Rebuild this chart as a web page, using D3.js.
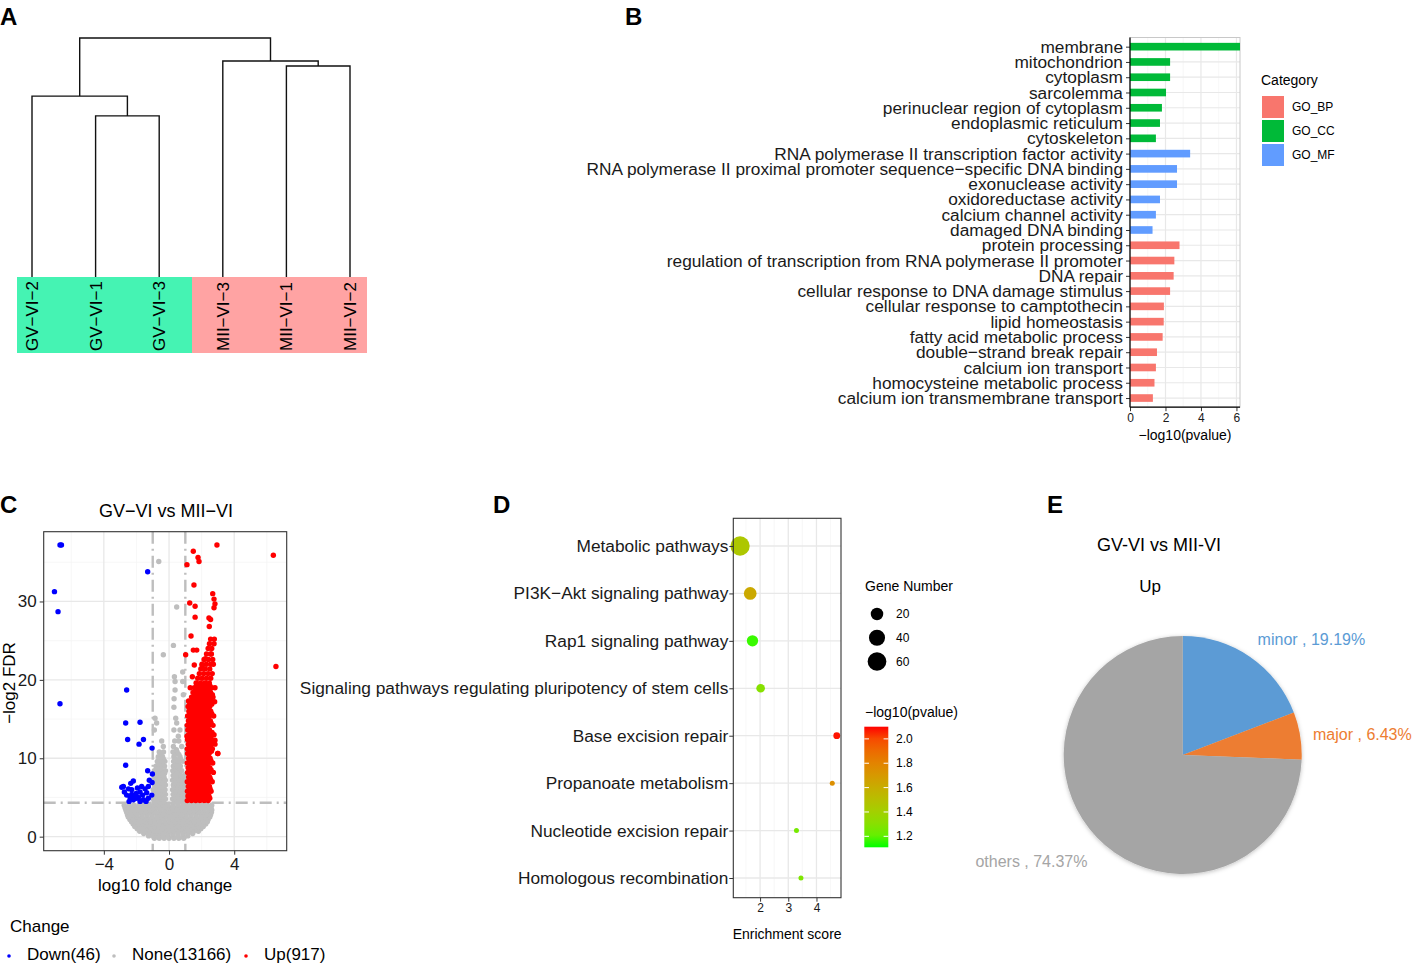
<!DOCTYPE html>
<html>
<head>
<meta charset="utf-8">
<script src="https://cdn.jsdelivr.net/npm/d3@7"></script>
<style>
  body { margin: 0; background: #fff; }
  svg { font-family: "Liberation Sans", Arial, Helvetica, sans-serif; }
</style>
</head>
<body>
<svg id="fig" width="1417" height="964"></svg>
<script>
// ---------- A: sample clustering ----------
var sampleNames = ['GV−VI−2', 'GV−VI−1', 'GV−VI−3', 'MII−VI−3', 'MII−VI−1', 'MII−VI−2'];
var sampleGroups = ['GV−VI', 'MII−VI'];
var groupColors = ['#45F3B3', '#FFA3A3'];
// hclust style merge table (negative = leaf, positive = earlier cluster)
var hcMerge = [[-2, -3], [-1, 1], [-5, -6], [-4, 3], [2, 4]];
var hcHeight = [67.4, 75.7, 88.3, 90.4, 100];

// ---------- B: GO enrichment ----------
var goTerms = ['membrane', 'mitochondrion', 'cytoplasm', 'sarcolemma', 'perinuclear region of cytoplasm',
  'endoplasmic reticulum', 'cytoskeleton', 'RNA polymerase II transcription factor activity',
  'RNA polymerase II proximal promoter sequence−specific DNA binding', 'exonuclease activity',
  'oxidoreductase activity', 'calcium channel activity', 'damaged DNA binding', 'protein processing',
  'regulation of transcription from RNA polymerase II promoter', 'DNA repair',
  'cellular response to DNA damage stimulus', 'cellular response to camptothecin', 'lipid homeostasis',
  'fatty acid metabolic process', 'double−strand break repair', 'calcium ion transport',
  'homocysteine metabolic process', 'calcium ion transmembrane transport'];
var goCategory = ['GO_CC', 'GO_CC', 'GO_CC', 'GO_CC', 'GO_CC', 'GO_CC', 'GO_CC',
  'GO_MF', 'GO_MF', 'GO_MF', 'GO_MF', 'GO_MF', 'GO_MF',
  'GO_BP', 'GO_BP', 'GO_BP', 'GO_BP', 'GO_BP', 'GO_BP', 'GO_BP', 'GO_BP', 'GO_BP', 'GO_BP', 'GO_BP'];
var goLogP = [6.2, 2.26, 2.26, 2.03, 1.8, 1.69, 1.46, 3.39, 2.65, 2.65, 1.69, 1.46, 1.27,
  2.79, 2.5, 2.46, 2.26, 1.91, 1.9, 1.84, 1.52, 1.46, 1.38, 1.29];
var goCats = ['GO_BP', 'GO_CC', 'GO_MF'];
var goColors = ['#F8766D', '#00BA38', '#619CFF'];

// ---------- C: volcano ----------
var changeNames = ['Down(46)', 'None(13166)', 'Up(917)'];
var changeColors = ['#0000FF', '#BEBEBE', '#FF0000'];
var downPts = [[-6.69, 37.2], [-6.6, 37.2], [-7.03, 31.25], [-6.81, 28.7], [-6.69, 16.96], [-1.31, 33.8],
  [-2.6, 18.7], [-2.66, 14.5], [-1.78, 14.6], [-2.54, 12.4], [-1.57, 12.4], [-1.84, 11.8], [-1.04, 11.3],
  [-2.66, 9.1], [-1.31, 8.4], [-1.02, 8.0], [-1.04, 6.9], [-2.8, 6.4], [-2.35, 6.8], [-2.19, 7.1],
  [-2.49, 6.1], [-2.6, 5.3], [-2.29, 5.4], [-2.02, 5.5], [-1.78, 5.7], [-1.47, 6.1], [-1.37, 5.6],
  [-1.62, 5.3], [-1.88, 5.0], [-2.19, 4.7], [-2.45, 4.5], [-1.27, 4.9], [-1.57, 4.7], [-1.27, 6.4],
  [-1.98, 4.9], [-2.74, 5.7], [-2.39, 5.0], [-1.21, 7.2], [-1.41, 4.5], [-1.78, 4.5], [-2.15, 5.2],
  [-2.9, 6.3], [-1.06, 5.3], [-1.68, 6.4], [-2.29, 6.0], [-1.94, 6.2]];
// gray cloud, read row by row: [y, [x...]]
var noneRows = [
  [-0.2, [-0.9, -0.6, -0.3, 0, 0.3, 0.6, 0.9]],
  [0.1, [-1.25, -0.95, -0.65, -0.35, -0.05, 0.25, 0.55, 0.85, 1.15]],
  [0.4, [-1.55, -1.25, -0.95, -0.65, -0.35, -0.05, 0.25, 0.55, 0.85, 1.15, 1.45]],
  [0.7, [-1.8, -1.5, -1.2, -0.9, -0.6, -0.3, 0, 0.3, 0.6, 0.9, 1.2, 1.5, 1.8]],
  [1.0, [-1.95, -1.65, -1.35, -1.05, -0.75, -0.45, -0.15, 0.15, 0.45, 0.75, 1.05, 1.35, 1.65, 1.95]],
  [1.3, [-2.1, -1.8, -1.5, -1.2, -0.9, -0.6, -0.3, 0, 0.3, 0.6, 0.9, 1.2, 1.5, 1.8, 2.1]],
  [1.6, [-2.2, -1.9, -1.6, -1.3, -1.0, -0.7, -0.4, -0.1, 0.2, 0.5, 0.8, 1.1, 1.4, 1.7, 2.0, 2.25]],
  [1.9, [-2.3, -2.05, -1.75, -1.45, -1.15, -0.85, -0.55, -0.25, 0.05, 0.35, 0.65, 0.95, 1.25, 1.55, 1.85, 2.15, 2.35]],
  [2.2, [-2.4, -2.1, -1.8, -1.5, -1.2, -0.9, -0.6, -0.3, 0, 0.3, 0.6, 0.9, 1.2, 1.5, 1.8, 2.1, 2.4]],
  [2.5, [-2.5, -2.25, -1.95, -1.65, -1.35, -1.05, -0.75, -0.45, -0.15, 0.15, 0.45, 0.75, 1.05, 1.35, 1.65, 1.95, 2.25, 2.5]],
  [2.8, [-2.55, -2.25, -1.95, -1.65, -1.35, -1.05, -0.75, -0.45, -0.15, 0.15, 0.45, 0.75, 1.05, 1.35, 1.65, 1.95, 2.25, 2.55]],
  [3.1, [-2.6, -2.4, -2.1, -1.8, -1.5, -1.2, -0.9, -0.6, -0.3, 0, 0.3, 0.6, 0.9, 1.2, 1.5, 1.8, 2.1, 2.4, 2.6]],
  [3.4, [-2.65, -2.35, -2.05, -1.75, -1.45, -1.15, -0.85, -0.55, -0.25, 0.05, 0.35, 0.65, 0.95, 1.25, 1.55, 1.85, 2.15, 2.45, 2.62]],
  [3.7, [-2.7, -2.5, -2.2, -1.9, -1.6, -1.3, -1.0, -0.7, -0.4, -0.1, 0.2, 0.5, 0.8, 1.1, 1.4, 1.7, 2.0, 2.3, 2.58]],
  [4.0, [-2.75, -2.45, -2.15, -1.85, -1.55, -1.25, -0.95, -0.65, -0.35, -0.05, 0.25, 0.55, 0.85, 1.15, 1.45, 1.75, 2.05, 2.35, 2.62]],
  [4.4, [-0.85, -0.58, -0.33, 0.33, 0.58, 0.85]],
  [4.8, [-0.96, -0.7, -0.45, -0.22, 0.22, 0.46, 0.7, 0.95]],
  [5.1, [-0.83, -0.57, -0.33, 0.35, 0.6, 0.85]],
  [5.4, [-0.9, -0.64, -0.4, -0.22, 0.25, 0.5, 0.75, 0.98]],
  [5.7, [-0.78, -0.52, -0.3, 0.37, 0.62, 0.87]],
  [6.0, [-0.97, -0.72, -0.47, -0.24, 0.22, 0.44, 0.68, 0.92]],
  [6.3, [-0.85, -0.58, -0.34, 0.33, 0.58, 0.83]],
  [6.6, [-0.88, -0.62, -0.38, -0.22, 0.26, 0.5, 0.74, 0.96]],
  [6.9, [-0.76, -0.5, -0.3, 0.38, 0.62, 0.86]],
  [7.2, [-0.93, -0.67, -0.42, -0.23, 0.22, 0.47, 0.75]],
  [7.5, [-0.8, -0.55, -0.3, 0.35, 0.6, 0.85]],
  [7.8, [-0.85, -0.58, -0.33, 0.25, 0.5, 0.72, 0.95]],
  [8.1, [-0.72, -0.47, -0.27, 0.37, 0.63]],
  [8.4, [-0.9, -0.63, -0.38, -0.22, 0.23, 0.5, 0.78]],
  [8.7, [-0.77, -0.5, 0.36, 0.64]],
  [9.0, [-0.8, -0.52, -0.27, 0.26, 0.48, 0.7]],
  [9.3, [-0.66, -0.4, 0.38, 0.6]],
  [9.6, [-0.72, -0.46, -0.25, 0.28, 0.55, 0.85]],
  [9.9, [-0.58, -0.35, 0.4, 0.7]],
  [10.2, [-0.66, -0.4, 0.3, 0.67]],
  [10.5, [-0.5, 0.37, 0.6]],
  [10.8, [-0.6, -0.34, 0.24, 0.5]],
  [11.1, [0.45]],
  [11.5, [-0.35, 0.27, 0.78]],
  [12.2, [-0.45, 0.35, 0.6]],
  [12.8, [0.57]],
  [13.6, [-0.9, 0.3, 0.67]],
  [14.5, [-0.76, 0.47]],
  [15.1, [-0.86, 0.41]],
  [16.5, [0.3]],
  [17.6, [0.31]],
  [18.1, [0.88]],
  [18.7, [0.37]],
  [19.8, [0.37, 0.84]],
  [20.4, [0.33]],
  [21.0, [0.84]]];
var nonePts = [[-0.63, 35.1], [0.47, 29.3], [0.27, 24.4], [-0.35, 23.2]];
var upRows = [
  [4.6, [1.12, 1.38, 1.64, 1.9, 2.16, 2.4]],
  [4.9, [1.25, 1.51, 1.77, 2.03, 2.29, 2.5]],
  [5.2, [1.16, 1.42, 1.69, 1.95, 2.22, 2.45]],
  [5.5, [1.29, 1.55, 1.82, 2.08, 2.33]],
  [5.8, [1.13, 1.4, 1.66, 1.92, 2.18, 2.43, 2.58]],
  [6.1, [1.26, 1.53, 1.79, 2.05, 2.31, 2.52]],
  [6.4, [1.18, 1.44, 1.7, 1.97, 2.24, 2.48]],
  [6.7, [1.31, 1.57, 1.83, 2.1, 2.36]],
  [7.0, [1.12, 1.38, 1.65, 1.91, 2.17, 2.42, 2.65]],
  [7.3, [1.25, 1.51, 1.78, 2.04, 2.3, 2.55]],
  [7.6, [1.2, 1.46, 1.72, 1.98, 2.25, 2.5]],
  [7.9, [1.33, 1.59, 1.85, 2.12, 2.38]],
  [8.2, [1.14, 1.4, 1.66, 1.93, 2.2, 2.45, 2.72]],
  [8.5, [1.27, 1.53, 1.8, 2.06, 2.33, 2.58]],
  [8.8, [1.17, 1.43, 1.7, 1.96, 2.23, 2.5]],
  [9.1, [1.3, 1.56, 1.83, 2.09, 2.36]],
  [9.4, [1.12, 1.39, 1.65, 1.92, 2.18, 2.44, 2.68]],
  [9.7, [1.25, 1.52, 1.78, 2.05, 2.31, 2.57]],
  [10.0, [1.2, 1.46, 1.73, 2.0, 2.26, 2.52]],
  [10.3, [1.33, 1.6, 1.86, 2.13, 2.39]],
  [10.6, [1.14, 1.4, 1.67, 1.94, 2.2, 2.46, 2.98]],
  [10.9, [1.27, 1.54, 1.8, 2.07, 2.33, 2.6]],
  [11.2, [1.12, 1.38, 1.64, 1.9, 2.17, 2.43, 2.66]],
  [11.5, [1.25, 1.51, 1.77, 2.04, 2.3, 2.55]],
  [11.8, [1.18, 1.45, 1.72, 1.99, 2.26, 2.52, 2.82]],
  [12.1, [1.31, 1.58, 1.85, 2.12, 2.39, 2.66]],
  [12.4, [1.13, 1.4, 1.67, 1.94, 2.2, 2.46]],
  [12.7, [1.26, 1.53, 1.8, 2.07, 2.33, 2.58]],
  [13.0, [1.2, 1.47, 1.74, 2.0, 2.27, 2.54, 2.76]],
  [13.3, [1.33, 1.6, 1.87, 2.13, 2.4, 2.64]],
  [13.6, [1.15, 1.42, 1.69, 1.96, 2.23, 2.48]],
  [13.9, [1.28, 1.55, 1.82, 2.09, 2.36]],
  [14.2, [1.12, 1.38, 1.65, 1.92, 2.19, 2.45, 2.7]],
  [14.5, [1.25, 1.52, 1.78, 2.05, 2.32, 2.58]],
  [14.8, [1.19, 1.46, 1.73, 2.0, 2.27, 2.53]],
  [15.1, [1.32, 1.59, 1.86, 2.13, 2.4]],
  [15.4, [1.14, 1.41, 1.68, 1.95, 2.22, 2.48, 2.74]],
  [15.7, [1.27, 1.55, 1.82, 2.09, 2.35, 2.62]],
  [16.0, [1.22, 1.49, 1.76, 2.03, 2.3, 2.56]],
  [16.3, [1.35, 1.62, 1.89, 2.16, 2.43]],
  [16.6, [1.17, 1.44, 1.71, 1.98, 2.25, 2.5]],
  [16.9, [1.3, 1.57, 1.84, 2.11, 2.38, 2.62]],
  [17.2, [1.24, 1.52, 1.79, 2.06, 2.33, 2.6, 2.8]],
  [17.5, [1.5, 1.78, 2.05, 2.32, 2.58]],
  [17.8, [1.38, 1.65, 1.92, 2.19, 2.46, 2.7]],
  [18.1, [1.6, 1.87, 2.14, 2.41, 2.66]],
  [18.4, [1.47, 1.74, 2.01, 2.28, 2.55]],
  [18.7, [1.68, 1.95, 2.22, 2.48]],
  [19.0, [1.55, 1.82, 2.09, 2.36, 2.62, 2.82]],
  [19.3, [1.7, 1.96, 2.23, 2.5]],
  [19.6, [1.66, 1.93, 2.2, 2.47]],
  [20.2, [1.76, 2.03, 2.3, 2.56]],
  [20.8, [1.86, 2.13, 2.4, 2.65]],
  [21.4, [1.95, 2.22, 2.5]],
  [22.0, [2.02, 2.29, 2.56, 2.72]],
  [22.6, [2.15, 2.42, 2.68]],
  [23.3, [2.3, 2.55]],
  [24.0, [2.4, 2.62]],
  [24.6, [2.48, 2.76]]];
var upPts = [[2.94, 37.2], [6.4, 35.9], [6.56, 21.7], [1.49, 36.4], [1.78, 35.6], [1.84, 35.1], [1.1, 34.7],
  [1.53, 32.1], [2.68, 31.0], [2.76, 30.3], [2.82, 29.7], [2.76, 29.2], [1.27, 29.8], [1.6, 29.4],
  [1.6, 28.0], [2.45, 27.9], [2.55, 27.7], [2.47, 26.8], [1.35, 25.6], [2.55, 25.2], [2.78, 25.2],
  [1.49, 23.8], [1.7, 23.8], [1.02, 23.2], [2.6, 23.3], [2.23, 22.7], [1.55, 21.9], [2.04, 21.8],
  [1.43, 20.4], [3.0, 10.6], [2.82, 12.3], [1.2, 17.3], [1.3, 19.0], [1.1, 12.8]];
var fcCut = 1;
var fdrCut = 4.32;

// ---------- D: KEGG ----------
var keggTerms = ['Metabolic pathways', 'PI3K−Akt signaling pathway', 'Rap1 signaling pathway',
  'Signaling pathways regulating pluripotency of stem cells', 'Base excision repair',
  'Propanoate metabolism', 'Nucleotide excision repair', 'Homologous recombination'];
var keggEnrich = [1.29, 1.65, 1.73, 2.02, 4.72, 4.56, 3.29, 3.45];
var keggCount = [65, 21, 15, 7, 4, 3, 3, 3];
var keggLogP = [1.45, 1.62, 1.14, 1.3, 2.09, 1.75, 1.25, 1.27];
var sizeBreaks = [20, 40, 60];
var colorBreaks = [1.2, 1.4, 1.6, 1.8, 2.0];

// ---------- E: pie ----------
var pieNames = ['minor', 'major', 'others'];
var pieValues = [19.19, 6.43, 74.37];
var pieColors = ['#5B9BD5', '#ED7D31', '#A5A5A5'];
var pieLabelNudge = [-7, 0, 14];

var svg = d3.select('#fig');
var LABEL_SIZE = 17.3;

function panelLabel(txt, x, y) {
  svg.append('text').attr('x', x).attr('y', y).attr('font-size', 24)
    .attr('font-weight', 'bold').text(txt);
}

function styleAxis(g, size) {
  g.attr('font-family', null).attr('font-size', null);
  g.selectAll('text').attr('font-size', size).attr('fill', '#1a1a1a');
  g.selectAll('line').attr('stroke', '#333');
  g.select('.domain').remove();
}

function vLines(g, scale, vals, y0, y1, color, w) {
  return g.append('g').selectAll('line').data(vals).join('line')
    .attr('x1', d => scale(d)).attr('x2', d => scale(d))
    .attr('y1', y0).attr('y2', y1).attr('stroke', color).attr('stroke-width', w);
}

function hLines(g, scale, vals, x0, x1, color, w) {
  return g.append('g').selectAll('line').data(vals).join('line')
    .attr('y1', d => scale(d)).attr('y2', d => scale(d))
    .attr('x1', x0).attr('x2', x1).attr('stroke', color).attr('stroke-width', w);
}

var plainNum = d => (d < 0 ? '−' + (-d) : '' + d);

// ================= A =================
panelLabel('A', 0, 25);
var gA = svg.append('g');
var leafX = d3.scalePoint().domain(d3.range(sampleNames.length)).range([32, 350]);
var hY = d3.scaleLinear().domain([0, 100]).range([277, 38]);
var groupX = d3.scaleBand().domain(sampleGroups).range([17, 367]);

gA.selectAll('rect').data(sampleGroups).join('rect')
  .attr('x', d => groupX(d)).attr('y', hY(0))
  .attr('width', groupX.bandwidth()).attr('height', 76)
  .attr('fill', (d, i) => groupColors[i]);

var clusters = [];
function nodeAt(id) {
  return id < 0 ? { x: leafX(-id - 1), h: 0 } : clusters[id - 1];
}
hcMerge.forEach(function (m, i) {
  var a = nodeAt(m[0]), b = nodeAt(m[1]);
  var h = hcHeight[i];
  clusters.push({ x: (a.x + b.x) / 2, h: h });
  gA.append('path')
    .attr('d', 'M' + a.x + ',' + hY(a.h) + 'V' + hY(h) + 'H' + b.x + 'V' + hY(b.h))
    .attr('fill', 'none').attr('stroke', '#111').attr('stroke-width', 1.4);
});

gA.selectAll('text').data(sampleNames).join('text')
  .attr('transform', (d, i) => 'translate(' + (leafX(i) + 6) + ',351) rotate(-90)')
  .attr('font-size', 17).text(d => d);

// ================= B =================
panelLabel('B', 625, 25);
var gB = svg.append('g');
var bY = d3.scalePoint().domain(goTerms).range([37.5, 407.2]).padding(0.6);
var bX = d3.scaleLinear().domain([0, 6.2]).range([1130, 1240]);
var bTop = 37.5, bBot = 407.2;
vLines(gB, bX, [1, 3, 5], bTop, bBot, '#F3F3F3', 0.7);
vLines(gB, bX, [0, 2, 4, 6], bTop, bBot, '#E8E8E8', 1.2);
hLines(gB, bY, goTerms, bX.range()[0], bX.range()[1], '#E8E8E8', 1.2);
gB.append('rect').attr('x', bX.range()[0]).attr('y', bTop)
  .attr('width', bX.range()[1] - bX.range()[0]).attr('height', bBot - bTop)
  .attr('fill', 'none').attr('stroke', '#C8C8C8').attr('stroke-width', 1);
var barH = bY.step() * 0.5;
gB.selectAll('rect.bar').data(goTerms).join('rect').attr('class', 'bar')
  .attr('x', bX(0)).attr('y', d => bY(d) - barH / 2)
  .attr('width', (d, i) => bX(goLogP[i]) - bX(0)).attr('height', barH)
  .attr('fill', (d, i) => goColors[goCats.indexOf(goCategory[i])]);
var bAxL = gB.append('g').attr('transform', 'translate(' + bX(0) + ',0)')
  .call(d3.axisLeft(bY).tickSize(4).tickPadding(3));
styleAxis(bAxL, LABEL_SIZE);
var bAxB = gB.append('g').attr('transform', 'translate(0,' + bBot + ')')
  .call(d3.axisBottom(bX).tickValues([0, 2, 4, 6]).tickSize(4).tickPadding(2).tickFormat(plainNum));
styleAxis(bAxB, 12);
gB.append('line').attr('x1', bX(0)).attr('x2', bX(0)).attr('y1', bTop).attr('y2', bBot)
  .attr('stroke', '#000').attr('stroke-width', 1.2);
gB.append('line').attr('x1', bX.range()[0]).attr('x2', bX.range()[1]).attr('y1', bBot).attr('y2', bBot)
  .attr('stroke', '#000').attr('stroke-width', 1.2);
gB.append('text').attr('x', (bX.range()[0] + bX.range()[1]) / 2).attr('y', 440)
  .attr('text-anchor', 'middle').attr('font-size', 14).text('−log10(pvalue)');

var legB = gB.append('g').attr('transform', 'translate(1261,0)');
legB.append('text').attr('x', 0).attr('y', 85).attr('font-size', 14).text('Category');
var legBY = d3.scaleBand().domain(goCats).range([95, 167]);
legB.selectAll('rect').data(goCats).join('rect')
  .attr('x', 1).attr('y', d => legBY(d) + 1).attr('width', 22).attr('height', legBY.bandwidth() - 2)
  .attr('fill', (d, i) => goColors[i]);
legB.selectAll('text.lab').data(goCats).join('text').attr('class', 'lab')
  .attr('x', 31).attr('y', d => legBY(d) + legBY.bandwidth() / 2 + 4)
  .attr('font-size', 12).text(d => d);

// ================= C =================
panelLabel('C', 0, 513);
var gC = svg.append('g');
var cX = d3.scaleLinear().domain([-7.69, 7.22]).range([43.7, 286.7]);
var cY = d3.scaleLinear().domain([-1.79, 38.9]).range([850.7, 531.7]);
var cL = cX.range()[0], cR = cX.range()[1], cT = cY.range()[1], cB = cY.range()[0];
vLines(gC, cX, [-6, -2, 2, 6], cT, cB, '#F3F3F3', 0.7);
hLines(gC, cY, [5, 15, 25, 35], cL, cR, '#F3F3F3', 0.7);
vLines(gC, cX, [-4, 0, 4], cT, cB, '#E8E8E8', 1.3);
hLines(gC, cY, [0, 10, 20, 30], cL, cR, '#E8E8E8', 1.3);
// threshold lines (dot-dash)
var dash = '12,5,2,5';
vLines(gC, cX, [-fcCut, fcCut], cT, cB, '#BEBEBE', 2.4).attr('stroke-dasharray', dash);
hLines(gC, cY, [fdrCut], cL, cR, '#BEBEBE', 2.4).attr('stroke-dasharray', dash);

function rowsToPts(rows) {
  return rows.flatMap(r => r[1].map(x => [x, r[0]]));
}
var noneAll = rowsToPts(noneRows).concat(nonePts);
var upAll = rowsToPts(upRows).concat(upPts);
var ptR = 2.7;
[[noneAll, 1], [downPts, 0], [upAll, 2]].forEach(function (set) {
  gC.append('g').selectAll('circle').data(set[0]).join('circle')
    .attr('cx', d => cX(d[0])).attr('cy', d => cY(d[1])).attr('r', ptR)
    .attr('fill', changeColors[set[1]]);
});
gC.append('rect').attr('x', cL).attr('y', cT).attr('width', cR - cL).attr('height', cB - cT)
  .attr('fill', 'none').attr('stroke', '#333').attr('stroke-width', 1.1);
var cAxL = gC.append('g').attr('transform', 'translate(' + cL + ',0)')
  .call(d3.axisLeft(cY).tickValues([0, 10, 20, 30]).tickSize(4).tickPadding(3));
styleAxis(cAxL, 17);
var cAxB = gC.append('g').attr('transform', 'translate(0,' + cB + ')')
  .call(d3.axisBottom(cX).tickValues([-4, 0, 4]).tickSize(4).tickPadding(3).tickFormat(plainNum));
styleAxis(cAxB, 17);
gC.append('text').attr('x', 166).attr('y', 517).attr('text-anchor', 'middle')
  .attr('font-size', 18).text('GV−VI vs MII−VI');
gC.append('text').attr('x', (cL + cR) / 2).attr('y', 891).attr('text-anchor', 'middle')
  .attr('font-size', 17).text('log10 fold change');
gC.append('text').attr('transform', 'translate(15,683) rotate(-90)')
  .attr('text-anchor', 'middle').attr('font-size', 17).text('−log2 FDR');
gC.append('text').attr('x', 10).attr('y', 932).attr('font-size', 17).text('Change');
var legCX = d3.scaleOrdinal().domain(changeNames).range([9, 114, 246]);
gC.selectAll('circle.leg').data(changeNames).join('circle').attr('class', 'leg')
  .attr('cx', d => legCX(d)).attr('cy', 956).attr('r', 1.8)
  .attr('fill', (d, i) => changeColors[i]);
gC.selectAll('text.leg').data(changeNames).join('text').attr('class', 'leg')
  .attr('x', d => legCX(d) + 18).attr('y', 960).attr('font-size', 17).text(d => d);

// ================= D =================
panelLabel('D', 493, 513);
var gD = svg.append('g');
var dX = d3.scaleLinear().domain([1.05, 4.87]).range([733.3, 841]);
var dY = d3.scalePoint().domain(keggTerms).range([546, 878]);
var dL = dX.range()[0], dR = dX.range()[1], dT = 518.3, dB = 897.7;
var dColor = d3.scaleLinear().domain([1.11, 2.1]).range(['#00FF00', '#FF0000']).interpolate(d3.interpolateLab);
// ggplot area palette: rmin + sqrt(rescaled) * (rmax - rmin)
var dSize = d3.scaleLinear().domain([0, 1]).range([2.5, 9.65]);
var dCount = d3.scaleLinear().domain(d3.extent(keggCount)).range([0, 1]);
function dRad(n) {
  return dSize(Math.sqrt(Math.max(dCount(n), 0)));
}
vLines(gD, dX, [1.5, 2.5, 3.5, 4.5], dT, dB, '#F3F3F3', 0.7);
vLines(gD, dX, [2, 3, 4], dT, dB, '#E8E8E8', 1.3);
hLines(gD, dY, keggTerms, dL, dR, '#E8E8E8', 1.3);
gD.append('g').selectAll('circle').data(keggTerms).join('circle')
  .attr('cx', (d, i) => dX(keggEnrich[i])).attr('cy', d => dY(d))
  .attr('r', (d, i) => dRad(keggCount[i]))
  .attr('fill', (d, i) => dColor(keggLogP[i]));
gD.append('rect').attr('x', dL).attr('y', dT).attr('width', dR - dL).attr('height', dB - dT)
  .attr('fill', 'none').attr('stroke', '#333').attr('stroke-width', 1.1);
var dAxL = gD.append('g').attr('transform', 'translate(' + dL + ',0)')
  .call(d3.axisLeft(dY).tickSize(4).tickPadding(1));
styleAxis(dAxL, LABEL_SIZE);
var dAxB = gD.append('g').attr('transform', 'translate(0,' + dB + ')')
  .call(d3.axisBottom(dX).tickValues([2, 3, 4]).tickSize(4).tickPadding(2).tickFormat(plainNum));
styleAxis(dAxB, 12);
gD.append('text').attr('x', (dL + dR) / 2).attr('y', 939).attr('text-anchor', 'middle')
  .attr('font-size', 14).text('Enrichment score');

var legD = gD.append('g');
legD.append('text').attr('x', 865).attr('y', 591).attr('font-size', 14).text('Gene Number');
var sizeY = d3.scalePoint().domain(sizeBreaks).range([614, 661.5]);
legD.selectAll('circle').data(sizeBreaks).join('circle')
  .attr('cx', 877).attr('cy', d => sizeY(d)).attr('r', d => dRad(d)).attr('fill', '#000');
legD.selectAll('text.s').data(sizeBreaks).join('text').attr('class', 's')
  .attr('x', 896).attr('y', d => sizeY(d) + 4).attr('font-size', 12).text(d => d);

legD.append('text').attr('x', 865).attr('y', 717).attr('font-size', 14).text('−log10(pvalue)');
var cbY = d3.scaleLinear().domain(dColor.domain()).range([847.3, 726.7]);
var grad = svg.append('defs').append('linearGradient').attr('id', 'cbar')
  .attr('x1', 0).attr('x2', 0).attr('y1', 1).attr('y2', 0);
grad.selectAll('stop').data(d3.range(11)).join('stop')
  .attr('offset', d => d / 10)
  .attr('stop-color', d => dColor(cbY.invert(847.3 - (847.3 - 726.7) * d / 10)));
legD.append('rect').attr('x', 864.3).attr('y', cbY(2.1)).attr('width', 24)
  .attr('height', cbY(1.11) - cbY(2.1)).attr('fill', 'url(#cbar)');
colorBreaks.forEach(function (v) {
  legD.append('line').attr('x1', 864.3).attr('x2', 869).attr('y1', cbY(v)).attr('y2', cbY(v))
    .attr('stroke', '#fff').attr('stroke-width', 1);
  legD.append('line').attr('x1', 883.6).attr('x2', 888.3).attr('y1', cbY(v)).attr('y2', cbY(v))
    .attr('stroke', '#fff').attr('stroke-width', 1);
});
legD.selectAll('text.c').data(colorBreaks).join('text').attr('class', 'c')
  .attr('x', 896).attr('y', d => cbY(d) + 4).attr('font-size', 12).text(d => d.toFixed(1));

// ================= E =================
panelLabel('E', 1047, 513);
var gE = svg.append('g');
var pieC = [1182.7, 755], pieR = 119;
var shadow = svg.select('defs').append('filter').attr('id', 'pieShadow')
  .attr('x', '-20%').attr('y', '-20%').attr('width', '140%').attr('height', '140%');
shadow.append('feDropShadow').attr('dx', 0).attr('dy', 1).attr('stdDeviation', 2.2)
  .attr('flood-color', '#000').attr('flood-opacity', 0.25);
var pie = d3.pie().sort(null).value(d => d)(pieValues);
var arc = d3.arc().innerRadius(0).outerRadius(pieR);
var pg = gE.append('g').attr('transform', 'translate(' + pieC[0] + ',' + pieC[1] + ')')
  .attr('filter', 'url(#pieShadow)');
pg.selectAll('path').data(pie).join('path').attr('d', arc)
  .attr('fill', (d, i) => pieColors[i]);
var labArc = d3.arc().innerRadius(pieR * 1.11).outerRadius(pieR * 1.11);
gE.selectAll('text.pl').data(pie).join('text').attr('class', 'pl')
  .attr('x', d => pieC[0] + labArc.centroid(d)[0])
  .attr('y', (d, i) => pieC[1] + labArc.centroid(d)[1] + 6 + pieLabelNudge[i])
  .attr('text-anchor', d => (d.startAngle + d.endAngle) / 2 > Math.PI ? 'end' : 'start')
  .attr('font-size', 16)
  .attr('fill', (d, i) => pieColors[i])
  .text((d, i) => pieNames[i] + ' , ' + pieValues[i].toFixed(2) + '%');
gE.append('text').attr('x', 1159).attr('y', 551).attr('text-anchor', 'middle')
  .attr('font-size', 18).text('GV-VI vs MII-VI');
gE.append('text').attr('x', 1150).attr('y', 592).attr('text-anchor', 'middle')
  .attr('font-size', 17).text('Up');
</script>
</body>
</html>
